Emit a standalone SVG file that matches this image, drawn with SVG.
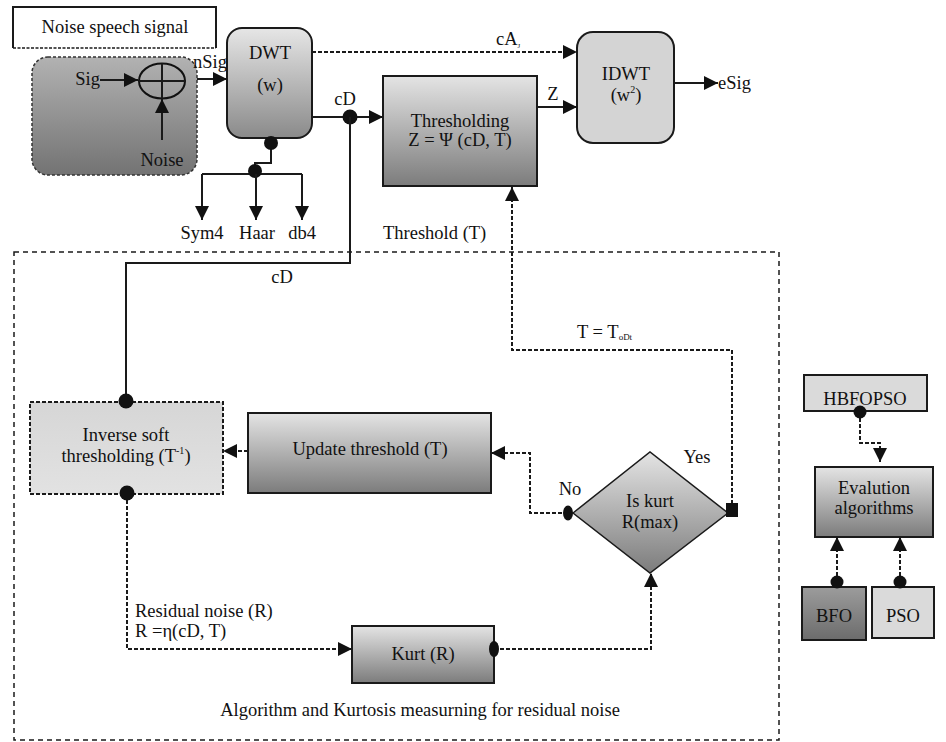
<svg xmlns="http://www.w3.org/2000/svg" width="946" height="742" viewBox="0 0 946 742" font-family="'Liberation Serif', 'DejaVu Serif', serif">
<style>
text{font-family:'Liberation Serif','DejaVu Serif',serif;font-size:18.5px;fill:#111}
.c{text-anchor:middle}
.ln{fill:none;stroke:#1a1a1a;stroke-width:2}
.dl{fill:none;stroke:#1a1a1a;stroke-width:2;stroke-dasharray:4 2}
.bx{stroke:#1a1a1a;stroke-width:2}
.dot{fill:#111}
.sub{font-size:10px}
</style>
<defs>
<linearGradient id="gMid" x1="0" y1="0" x2="0" y2="1"><stop offset="0" stop-color="#e4e4e4"/><stop offset="1" stop-color="#7c7c7c"/></linearGradient>
<linearGradient id="gDwt" x1="0" y1="0" x2="0" y2="1"><stop offset="0" stop-color="#e6e6e6"/><stop offset="1" stop-color="#8a8a8a"/></linearGradient>
<linearGradient id="gDark" x1="0" y1="0" x2="0" y2="1"><stop offset="0" stop-color="#b2b2b2"/><stop offset="1" stop-color="#737373"/></linearGradient>
<linearGradient id="gLight" x1="0" y1="0" x2="0" y2="1"><stop offset="0" stop-color="#d6d6d6"/><stop offset="1" stop-color="#e2e2e2"/></linearGradient>
<linearGradient id="gBfo" x1="0" y1="0" x2="0" y2="1"><stop offset="0" stop-color="#9c9c9c"/><stop offset="1" stop-color="#6c6c6c"/></linearGradient>
<marker id="arr" viewBox="0 0 14 14" refX="14" refY="7" markerWidth="14" markerHeight="14" markerUnits="userSpaceOnUse" orient="auto"><path d="M0,0 L14,7 L0,14 z" fill="#111"/></marker>
</defs>

<!-- outer dashed region -->
<rect x="14" y="252" width="765" height="488" fill="none" stroke="#1a1a1a" stroke-width="1.5" stroke-dasharray="5 4"/>

<g id="noise-speech-signal">
<rect x="13" y="7" width="203" height="41" fill="#fff" stroke="none"/>
<path d="M13,48 V7 H216 V48" class="ln" stroke-width="1.5"/>
<path d="M13,48 H216" fill="none" stroke="#1a1a1a" stroke-width="1.5" stroke-dasharray="3 1.5"/>
<text x="115" y="33" class="c">Noise speech signal</text>
</g>

<g id="mixer">
<rect x="32" y="57" width="165" height="118" rx="16" fill="url(#gDark)" stroke="#333" stroke-width="1.5" stroke-dasharray="3 2"/>
<text x="100" y="85" text-anchor="end">Sig</text>
<ellipse cx="162" cy="81" rx="23" ry="17.5" fill="none" stroke="#111" stroke-width="2"/>
<path d="M139,81 H185 M162,63.5 V98.5" class="ln"/>
<text x="162" y="166" class="c">Noise</text>
</g>

<g id="dwt">
<rect x="227" y="28" width="85" height="110" rx="15" fill="url(#gDwt)" class="bx"/>
<text x="270" y="59" class="c">DWT</text>
<text x="270" y="91" class="c">(w)</text>
</g>

<g id="thresholding">
<rect x="383" y="76" width="154" height="110" fill="url(#gMid)" class="bx"/>
<text x="460" y="127" class="c">Thresholding</text>
<text x="460" y="146" class="c">Z = Ψ (cD, T)</text>
</g>

<g id="idwt">
<rect x="577" y="32" width="97" height="111" rx="16" fill="#d4d4d4" class="bx"/>
<text x="626" y="80" class="c">IDWT</text>
<text x="626" y="101" class="c">(w<tspan class="sub" dy="-8">2</tspan><tspan dy="8">)</tspan></text>
</g>

<g id="wavelets">
<text x="202" y="239" class="c">Sym4</text>
<text x="257" y="239" class="c">Haar</text>
<text x="302" y="239" class="c">db4</text>
</g>

<g id="inverse-soft">
<rect x="30" y="402" width="193" height="92" fill="url(#gLight)" stroke="#1a1a1a" stroke-width="2" stroke-dasharray="4 2"/>
<text x="126" y="441" class="c">Inverse soft</text>
<text x="126" y="462" class="c">thresholding (T<tspan class="sub" dy="-8">-1</tspan><tspan dy="8">)</tspan></text>
</g>

<g id="update-threshold">
<rect x="248" y="413" width="243" height="80" fill="url(#gMid)" class="bx"/>
<text x="370" y="455" class="c">Update threshold (T)</text>
</g>

<g id="decision">
<polygon points="573,513 650,452 728,513 650,573" fill="url(#gMid)" stroke="#1a1a1a" stroke-width="1.5"/>
<text x="650" y="507" class="c">Is kurt</text>
<text x="650" y="528" class="c">R(max)</text>
</g>

<g id="kurt">
<rect x="352" y="626" width="142" height="57" fill="url(#gMid)" class="bx"/>
<text x="423" y="660" class="c">Kurt (R)</text>
</g>

<g id="hbfopso">
<rect x="804" y="375" width="123" height="36" fill="#dadada" class="bx"/>
<text x="865" y="405" class="c">HBFOPSO</text>
</g>

<g id="evalution">
<rect x="815" y="467" width="118" height="70" fill="url(#gMid)" class="bx"/>
<text x="874" y="494" class="c">Evalution</text>
<text x="874" y="514" class="c">algorithms</text>
</g>

<g id="bfo">
<rect x="802" y="587" width="64" height="53" fill="url(#gBfo)" class="bx"/>
<text x="834" y="622" class="c">BFO</text>
</g>

<g id="pso">
<rect x="872" y="587" width="62" height="51" fill="#dadada" class="bx"/>
<text x="903" y="622" class="c">PSO</text>
</g>

<g id="connectors">
<path d="M100,80 H138" class="ln" marker-end="url(#arr)"/>
<path d="M162,140 V99" class="ln" marker-end="url(#arr)"/>
<path d="M197,79 H227" class="ln" marker-end="url(#arr)"/>
<text x="193" y="68">nSig</text>
<path d="M271,143 V163 H255 V174" class="ln"/>
<circle cx="271" cy="143" r="7" class="dot"/>
<path d="M202,174 H302" class="ln"/>
<circle cx="255" cy="171" r="7" class="dot"/>
<path d="M202,174 V220" class="ln" marker-end="url(#arr)"/>
<path d="M256,174 V220" class="ln" marker-end="url(#arr)"/>
<path d="M302,174 V220" class="ln" marker-end="url(#arr)"/>
<path d="M312,117 H383" class="ln" marker-end="url(#arr)"/>
<circle cx="350" cy="117" r="7.5" class="dot"/>
<text x="345" y="105" class="c">cD</text>
<path d="M350,117 V263 H126 V402" class="ln"/>
<text x="282" y="283" class="c">cD</text>
<circle cx="126" cy="401" r="7.5" class="dot"/>
<path d="M312,52 H577" class="dl" marker-end="url(#arr)"/>
<text x="496" y="45">cA<tspan font-size="7" dy="3">J</tspan></text>
<path d="M537,107 H577" class="ln" marker-end="url(#arr)"/>
<text x="553" y="100" class="c">Z</text>
<path d="M674,83 H718" class="ln" marker-end="url(#arr)"/>
<text x="718" y="89">eSig</text>
<path d="M732,510 V350 H512 V187" class="dl" marker-end="url(#arr)"/>
<text x="383" y="239">Threshold (T)</text>
<text x="577" y="338">T = T<tspan font-size="9" dy="2">oDt</tspan></text>
<rect x="726" y="503" width="12" height="14" fill="#111"/>
<text x="697" y="463" class="c">Yes</text>
<path d="M568,513 H530 V453 H491" class="dl" marker-end="url(#arr)"/>
<ellipse cx="568" cy="513" rx="5" ry="7.5" class="dot"/>
<text x="570" y="495" class="c">No</text>
<path d="M248,451 H223" class="dl" marker-end="url(#arr)"/>
<path d="M127,494 V649 H352" class="dl" marker-end="url(#arr)"/>
<circle cx="127" cy="493" r="7.5" class="dot"/>
<text x="135" y="617">Residual noise (R)</text>
<text x="135" y="637">R =η(cD, T)</text>
<path d="M494,649 H651 V573" class="dl" marker-end="url(#arr)"/>
<ellipse cx="494" cy="649" rx="5" ry="8" class="dot"/>
<path d="M860,412 V443 H880 V462" class="dl" marker-end="url(#arr)"/>
<circle cx="860" cy="412" r="6.5" class="dot"/>
<path d="M837,582 V537" class="dl" marker-end="url(#arr)"/>
<circle cx="837" cy="582" r="6.5" class="dot"/>
<path d="M900,582 V537" class="dl" marker-end="url(#arr)"/>
<circle cx="900" cy="582" r="6.5" class="dot"/>
</g>

<text x="420" y="716" class="c">Algorithm and Kurtosis measurning for residual noise</text>
</svg>
